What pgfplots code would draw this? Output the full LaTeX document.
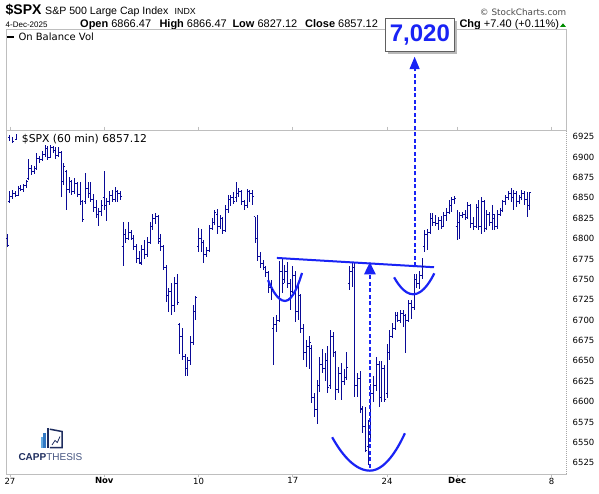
\documentclass[border=0pt]{standalone}
\usepackage{fontspec}
\setmainfont{Liberation Sans}
\newfontfamily\dv{DejaVu Sans}
\usepackage{pgfplots}
\pgfplotsset{compat=1.18}
\usepackage{pgfplotstable}
\definecolor{barcol}{RGB}{10,10,150}
\definecolor{anno}{RGB}{25,35,245}
\definecolor{framec}{RGB}{190,190,190}
\definecolor{navy}{RGB}{30,45,95}
\definecolor{navyl}{RGB}{70,85,130}
\definecolor{lb1}{RGB}{100,170,225}
\definecolor{lb2}{RGB}{50,120,195}
\pgfdeclareplotmark{otick}{\pgfpathmoveto{\pgfqpoint{-1.5pt}{0pt}}\pgfpathlineto{\pgfqpoint{0pt}{0pt}}\pgfusepathqstroke}
\pgfdeclareplotmark{ctick}{\pgfpathmoveto{\pgfqpoint{0pt}{0pt}}\pgfpathlineto{\pgfqpoint{1.5pt}{0pt}}\pgfusepathqstroke}

\pgfplotstableread{
i o h l c
-1 6800 6806 6790 6792
0 6846 6858 6844 6852
1 6852 6860 6849 6855
2 6855 6859 6851 6853
3 6853 6864 6852 6862
4 6862 6866 6858 6860
5 6860 6867 6857 6865
6 6865 6872 6862 6870
7 6874 6898 6872 6886
8 6886 6890 6878 6882
9 6882 6889 6879 6886
10 6886 6905 6884 6898
11 6898 6902 6893 6897
12 6897 6907 6895 6903
13 6903 6915 6900 6910
14 6910 6914 6897 6900
15 6900 6915 6899 6912
16 6912 6914 6905 6908
17 6908 6913 6898 6902
18 6902 6912 6900 6905
19 6905 6907 6851 6870
20 6870 6893 6866 6888
21 6882 6884 6835 6860
22 6860 6876 6856 6870
23 6870 6872 6853 6858
24 6858 6874 6855 6868
25 6868 6870 6851 6854
26 6854 6870 6841 6845
27 6845 6848 6821 6823
28 6845 6880 6843 6862
29 6862 6869 6850 6855
30 6855 6870 6845 6848
31 6848 6855 6833 6838
32 6838 6847 6825 6830
33 6830 6837 6815 6833
34 6833 6848 6828 6840
35 6850 6883 6835 6840
36 6840 6850 6821 6845
37 6845 6858 6841 6853
38 6853 6860 6845 6848
39 6848 6863 6845 6858
40 6858 6860 6845 6855
41 6855 6858 6847 6851
42 6790 6821 6766 6805
43 6805 6812 6795 6800
44 6800 6820 6798 6808
45 6808 6810 6798 6800
46 6800 6804 6786 6790
47 6790 6793 6770 6775
48 6775 6785 6769 6771
49 6770 6792 6768 6786
50 6786 6798 6775 6780
51 6780 6802 6778 6795
52 6795 6820 6793 6815
53 6815 6830 6810 6825
54 6825 6831 6818 6827
55 6827 6829 6794 6796
56 6800 6806 6785 6790
57 6790 6792 6761 6765
58 6765 6768 6722 6730
59 6730 6740 6710 6735
60 6735 6745 6706 6718
61 6718 6753 6710 6745
62 6745 6757 6718 6722
63 6695 6696 6659 6680
64 6680 6690 6651 6655
65 6655 6659 6632 6640
66 6640 6655 6631 6650
67 6650 6680 6645 6672
68 6672 6718 6669 6710
69 6710 6730 6700 6728
70 6790 6813 6784 6800
71 6800 6812 6783 6795
72 6795 6798 6770 6780
73 6780 6790 6778 6785
74 6785 6817 6783 6812
75 6812 6825 6810 6820
76 6820 6835 6817 6832
77 6830 6836 6806 6815
78 6815 6829 6812 6825
79 6825 6827 6806 6810
80 6810 6841 6808 6836
81 6836 6853 6831 6848
82 6848 6853 6840 6850
83 6850 6857 6843 6846
84 6850 6870 6845 6855
85 6855 6862 6851 6858
86 6858 6860 6841 6845
87 6845 6848 6835 6840
88 6840 6861 6838 6858
89 6858 6860 6845 6855
90 6855 6860 6841 6851
91 6827 6827 6794 6800
92 6800 6829 6772 6778
93 6778 6784 6764 6770
94 6770 6774 6761 6765
95 6765 6766 6753 6758
96 6758 6760 6733 6740
97 6740 6749 6725 6737
98 6690 6704 6645 6695
99 6695 6706 6686 6700
100 6700 6773 6698 6760
101 6760 6776 6733 6745
102 6750 6768 6745 6760
103 6760 6771 6740 6745
104 6745 6750 6712 6735
105 6735 6766 6733 6755
106 6755 6760 6698 6710
107 6710 6745 6700 6730
108 6730 6732 6684 6690
109 6690 6695 6651 6660
110 6660 6675 6642 6668
111 6668 6680 6640 6672
112 6665 6670 6598 6605
113 6605 6610 6581 6590
114 6590 6626 6573 6620
115 6620 6655 6612 6645
116 6645 6665 6635 6640
117 6640 6660 6625 6650
118 6650 6668 6610 6617
119 6620 6688 6615 6680
120 6680 6685 6655 6660
121 6660 6662 6602 6615
122 6615 6643 6610 6635
123 6635 6648 6602 6625
124 6625 6640 6620 6630
125 6630 6661 6626 6642
126 6745 6766 6737 6760
127 6760 6771 6741 6765
128 6765 6770 6606 6620
129 6620 6635 6606 6628
130 6628 6637 6586 6592
131 6590 6594 6561 6570
132 6570 6594 6538 6540
133 6545 6577 6522 6560
134 6560 6622 6552 6610
135 6610 6631 6600 6620
136 6620 6655 6613 6645
137 6645 6650 6594 6605
138 6605 6650 6600 6640
139 6640 6645 6600 6602
140 6610 6671 6605 6660
141 6660 6688 6651 6680
142 6680 6696 6678 6690
143 6690 6710 6688 6705
144 6705 6710 6697 6700
145 6700 6712 6696 6708
146 6708 6712 6692 6705
147 6705 6708 6659 6700
148 6700 6725 6697 6720
149 6720 6725 6702 6715
150 6715 6757 6712 6750
151 6750 6757 6740 6745
152 6745 6760 6738 6755
153 6755 6776 6750 6766
154 6790 6810 6784 6805
155 6805 6812 6786 6808
156 6808 6831 6806 6825
157 6825 6831 6816 6820
158 6820 6829 6815 6818
159 6818 6827 6810 6822
160 6822 6828 6812 6815
161 6815 6833 6814 6828
162 6828 6837 6822 6832
163 6832 6847 6830 6840
164 6840 6851 6833 6848
165 6848 6852 6842 6849
166 6815 6835 6798 6820
167 6820 6833 6800 6828
168 6828 6833 6825 6830
169 6830 6835 6823 6826
170 6826 6845 6824 6840
171 6840 6843 6813 6818
172 6818 6827 6810 6815
173 6815 6843 6813 6838
174 6838 6847 6810 6815
175 6815 6851 6806 6845
176 6845 6847 6808 6812
177 6812 6835 6810 6830
178 6830 6833 6815 6820
179 6820 6841 6811 6829
180 6825 6830 6810 6815
181 6815 6835 6812 6830
182 6830 6837 6828 6834
183 6834 6847 6833 6845
184 6845 6853 6841 6850
185 6850 6858 6848 6855
186 6855 6862 6845 6850
187 6850 6860 6835 6855
188 6855 6858 6839 6845
189 6845 6853 6843 6850
190 6850 6860 6847 6855
191 6855 6858 6841 6848
192 6848 6857 6827 6840
193 6840 6857 6835 6857
}\spx

\begin{document}
\begin{tikzpicture}
\path[use as bounding box] (0,0) rectangle (599pt,493pt);
\fill[white] (0,0) rectangle (599pt,493pt);
\begin{scope}[x=1pt,y=-1pt,shift={(0pt,493pt)}]
  % header
  \node[anchor=base west, inner sep=0, font=\bfseries\fontsize{14}{14}\selectfont] at (5.5,14.5) {\$SPX};
  \node[anchor=base west, inner sep=0, font=\fontsize{10.6}{11}\selectfont] at (45,14.5) {S\&P 500 Large Cap Index};
  \node[anchor=base west, inner sep=0, font=\fontsize{8.8}{9}\selectfont] at (174.5,14.5) {INDX};
  \node[anchor=base east, inner sep=0, font=\dv\fontsize{8.8}{9}\selectfont, text=black!70] at (566.5,15.5) {© StockCharts.com};
  \node[anchor=base west, inner sep=0, font=\fontsize{8}{8}\selectfont] at (5.5,27.3) {4-Dec-2025};
  \node[anchor=base west, inner sep=0, font=\fontsize{11}{11}\selectfont] at (80,27.5) {\textbf{Open} 6866.47};
  \node[anchor=base west, inner sep=0, font=\fontsize{11}{11}\selectfont] at (159.3,27.5) {\textbf{High} 6866.47};
  \node[anchor=base west, inner sep=0, font=\fontsize{11}{11}\selectfont] at (232.3,27.5) {\textbf{Low} 6827.12};
  \node[anchor=base west, inner sep=0, font=\fontsize{11}{11}\selectfont] at (305,27.5) {\textbf{Close} 6857.12};
  \node[anchor=base west, inner sep=0, font=\fontsize{11}{11}\selectfont] at (459.3,27.5) {\textbf{Chg} +7.40 (+0.11\%)};
  \fill[green!55!black] (560,27) -- (566,27) -- (563,23.3) -- cycle;
  % top panel
  \draw[framec, line width=0.8pt] (6,29.3) rectangle (566,130);
  \draw[black, line width=1.8pt] (7,37.3) -- (14,37.3);
  \node[anchor=base west, inner sep=0, font=\dv\fontsize{10}{10}\selectfont] at (18.3,41) {On Balance Vol};
  % main panel legend
  \begin{scope}[barcol, line width=0.8pt]
    \draw (9,135.5) -- (9,141.5); \draw (8,137) -- (9,137);
    \draw (12.5,137) -- (12.5,143.5); \draw (12.5,141) -- (13.5,141);
    \draw (16,134.5) -- (16,140.5); \draw (15,139) -- (16,139);
  \end{scope}
  \node[anchor=base west, inner sep=0, font=\dv\fontsize{10.8}{11}\selectfont] at (21.7,142.7) {\$SPX (60 min) 6857.12};
  % logo
  \fill[lb1] (40.7,436.7) rectangle (42.8,448.3);
  \fill[lb2] (43.4,432.7) rectangle (45.5,448.3);
  \fill[navy] (46.6,428.3) rectangle (49,448.3);
  \draw[navy, line width=1.5pt] (49.8,429.2) -- (62,431.5) -- (62,447.6) -- (49.8,447.6);
  \draw[navy, line width=0.8pt] (52,445) -- (55,440.5) -- (57.3,442.5) -- (60,436.5);
  \node[anchor=base west, inner sep=0, font=\fontsize{10}{10}\selectfont] at (18.3,460.8) {\textcolor{navy}{\bfseries CAPP}\textcolor{navyl}{THESIS}};
\end{scope}

\begin{axis}[
  at={(6pt,19pt)}, anchor=south west,
  width=560pt, height=344pt, scale only axis,
  xmin=-1.485, xmax=206.4, ymin=6511.1, ymax=6933.2,
  clip=false,
  axis line style={draw=framec, line width=0.8pt},
  xtick={0,35,70,105,140,166,201},
  xticklabels={27,\textbf{Nov},10,17,24,\textbf{Dec},8},
  ytick={6525,6550,6575,6600,6625,6650,6675,6700,6725,6750,6775,6800,6825,6850,6875,6900,6925},
  yticklabels={6525,6550,6575,6600,6625,6650,6675,6700,6725,6750,6775,6800,6825,6850,6875,6900,6925},
  scaled y ticks=false,
  yticklabel pos=right,
  ytick style={draw=none},
  xtick style={draw=framec, line width=0.8pt},
  tick align=outside, major tick length=3pt,
  xticklabel style={font=\dv\fontsize{8.5}{9}\selectfont, inner sep=0pt, yshift=-0.5pt},
  yticklabel style={font=\dv\fontsize{8.5}{9}\selectfont, inner sep=0pt, xshift=3.5pt},
]
\addplot[draw=none, mark=none,
  error bars/.cd, y dir=both, y explicit, error mark=none,
  error bar style={draw=barcol, solid, line width=1pt}]
  table[x=i, y expr={(\thisrow{h}+\thisrow{l})/2}, y error expr={(\thisrow{h}-\thisrow{l})/2}] {\spx};
\addplot[draw=none, mark=otick, mark options={draw=barcol, fill=none, line width=1pt}] table[x=i, y=o] {\spx};
\addplot[draw=none, mark=ctick, mark options={draw=barcol, fill=none, line width=1pt}] table[x=i, y=c] {\spx};
% pattern annotations
\draw[anno, line width=2pt] (axis cs:99.1,6776.2) -- (axis cs:157.4,6764.8);
\draw[anno, line width=2.2pt] (axis cs:95.8,6749) parabola bend (axis cs:102.1,6723.4) (axis cs:108.4,6757.8);
\draw[anno, line width=2.2pt] (axis cs:119.6,6556.2) parabola bend (axis cs:133.6,6515.2) (axis cs:146.6,6561.1);
\draw[anno, line width=2.2pt] (axis cs:142.6,6752.4) parabola bend (axis cs:149.7,6731.6) (axis cs:157.5,6757.3);
\draw[anno, line width=2pt, dash pattern=on 4pt off 2.5pt] (axis cs:133.6,6519) -- (axis cs:133.6,6757);
\fill[anno] (axis cs:133.6,6771) -- (axis cs:131.4,6756) -- (axis cs:135.8,6756) -- cycle;
\draw[anno, line width=2pt, dash pattern=on 4pt off 2.5pt] (axis cs:150.2,6766) -- (axis cs:150.2,7008);
\fill[anno] (axis cs:150.2,7023) -- (axis cs:148.3,7008) -- (axis cs:152.1,7008) -- cycle;
\end{axis}

\begin{scope}[x=1pt,y=-1pt,shift={(0pt,493pt)}]
  \draw[white, line width=1pt] (566,131) -- (566,473.5);
  \draw[gray!70, line width=0.8pt, dash pattern=on 1pt off 1pt] (566,131) -- (566,473.5);
  \fill[gray!55] (388.2,20.8) rectangle (456.5,54.2);
  \draw[gray!75!black, fill=white, line width=0.8pt] (385.7,18.3) rectangle (454,51.7);
  \node[inner sep=0, font=\bfseries\fontsize{24}{24}\selectfont, text=anno] at (419.9,35.3) {7,020};
\end{scope}
\end{tikzpicture}
\end{document}
